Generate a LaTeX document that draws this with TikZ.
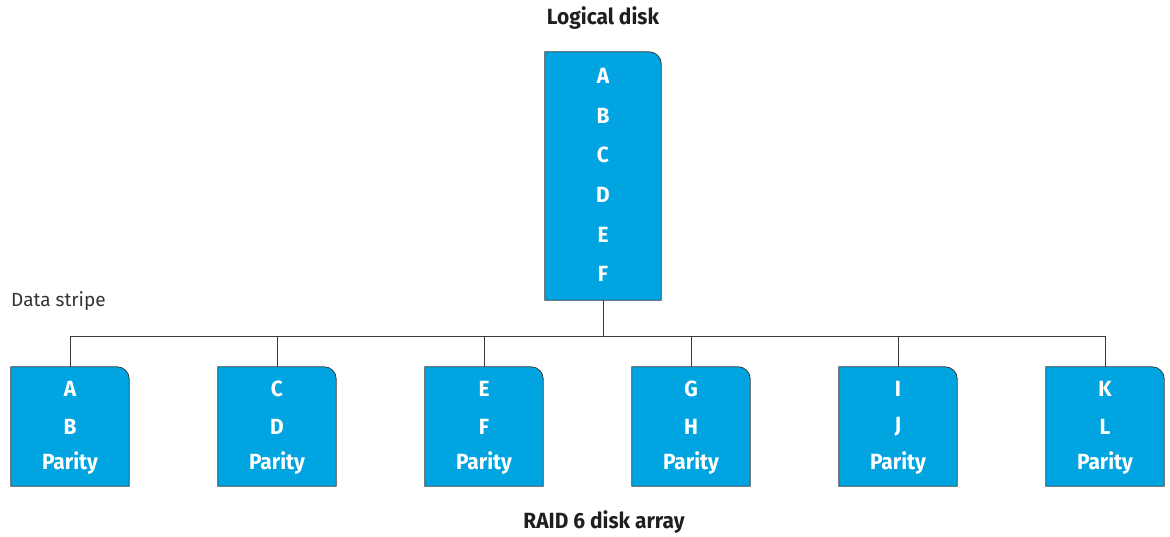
\documentclass[tikz,border=0pt]{standalone}
\usepackage{fontspec}
\setmainfont{Fira Sans}[FakeStretch=0.95]
\definecolor{hpblue}{HTML}{00A4E0}
\definecolor{linegray}{HTML}{3A3A3A}
\begin{document}
\begin{tikzpicture}[x=1pt,y=1pt,
  disk/.style={inner sep=0pt, minimum width=118pt, minimum height=119pt},
  bigdisk/.style={inner sep=0pt, minimum width=116pt, minimum height=248pt},
  shapefill/.style={fill=hpblue, draw=linegray, line width=0.8pt},
  lbl/.style={font=\fontsize{22}{26}\selectfont\bfseries, text=white, inner sep=0pt},
  title/.style={font=\fontsize{22}{26}\selectfont\bfseries, text=black!88, inner sep=0pt},
  conn/.style={draw=linegray, line width=0.8pt}]
\useasboundingbox (0,0) rectangle (1170,-536);
\newcommand{\diskshape}[1]{%
  \path[shapefill] (#1.south west) -- (#1.north west) -- ([xshift=-12pt]#1.north east)
    arc[start angle=90, end angle=0, radius=12pt] -- (#1.south east) -- cycle;}
% logical disk
\node[bigdisk] (L) at (603,-176) {};
\diskshape{L}
\foreach \t [count=\i] in {A,B,C,D,E,F}{
  \node[lbl] (L\i) at (603,{-76-39.6*(\i-1)}) {\t};
}
\node[title] (ttop) at (603,-18) {Logical disk};
\node[font=\fontsize{19}{22}\selectfont\addfontfeatures{FakeStretch=1}, text=black!80, anchor=west, inner sep=0pt] (ds) at (11,-301) {Data stripe};
% bus
\coordinate (bus) at (603,-336);
\foreach \n/\x/\a/\b in {1/70/A/B, 2/277/C/D, 3/484/E/F, 4/691/G/H, 5/898/I/J, 6/1105/K/L}{
  \node[disk] (D\n) at (\x,-426.5) {};
  \diskshape{D\n}
  \node[lbl] (D\n a) at (\x,-389) {\a};
  \node[lbl] (D\n b) at (\x,-427) {\b};
  \node[lbl] (D\n p) at (\x,-463) {Parity};
  \coordinate (B\n) at (\x,-336);
  \draw[conn] (D\n.north) -- (B\n);
}
\draw[conn] (L.south) -- (bus);
\draw[conn] (B1) -- (B6);
\node[title] (tbot) at (604,-522) {RAID 6 disk array};
\end{tikzpicture}
\end{document}
